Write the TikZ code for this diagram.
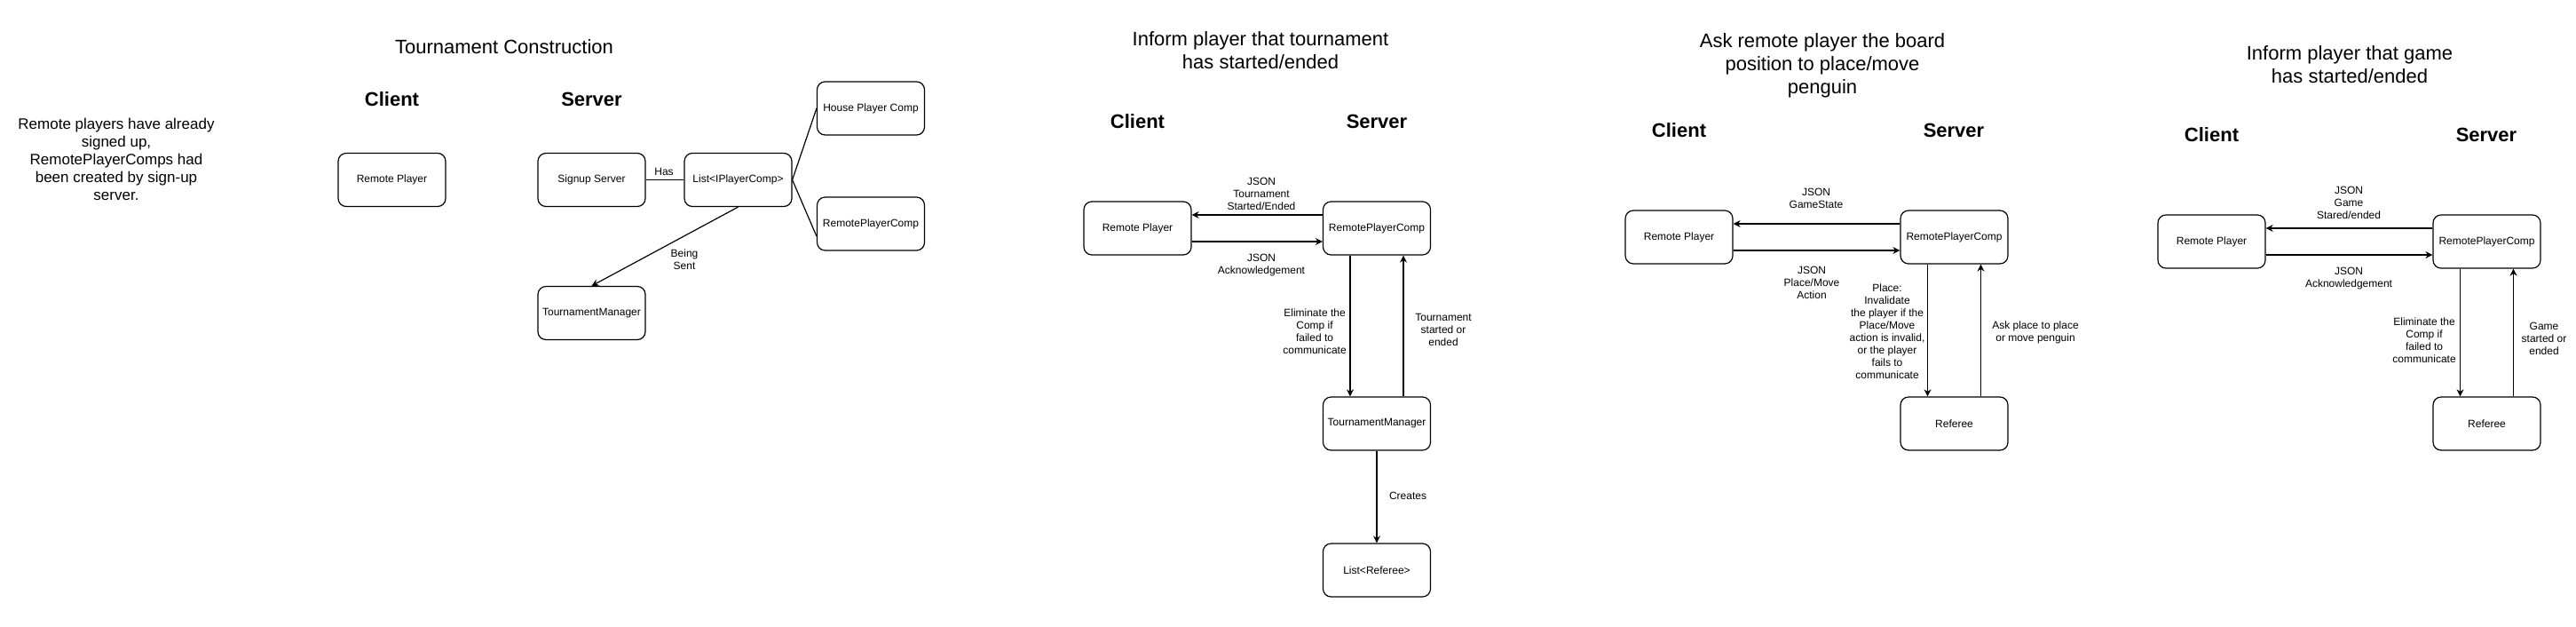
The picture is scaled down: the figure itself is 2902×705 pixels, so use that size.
\documentclass[tikz,border=0pt]{standalone}
\usepackage{fontspec}
\setmainfont{Liberation Sans}
\usetikzlibrary{arrows.meta}
\begin{document}
\begin{tikzpicture}[x=1pt, y=-1pt, node distance=225pt,
	comp/.style = {draw, rounded corners=9pt, line width=1.2pt, minimum width=121pt, minimum height=60pt, font=\fontsize{12}{14}\selectfont},
	lbl/.style = {align=center, font=\fontsize{12}{14}\selectfont},
	title/.style = {align=center, font=\fontsize{22}{26}\selectfont},
	side/.style = {font=\fontsize{22}{26}\selectfont\bfseries},
	link/.style = {line width=1.2pt},
	arr/.style = {line width=1.2pt, -{Stealth[length=8pt, width=8pt]}}]
		\useasboundingbox (0,0) rectangle (2902,705);
		\node[lbl, font=\fontsize{17}{20}\selectfont] (note) at (131,179) {Remote players have already\\signed up,\\RemotePlayerComps had\\been created by sign-up\\server.};
		\node[title] (t1) at (568,53) {Tournament Construction};
		\node[side] (c1) at (441.5,112) {Client};
		\node[side] (s1) at (666.5,112) {Server};
		\node[comp] (rp1) at (441.5,202.5) {Remote Player};
		\node[comp] (ss) [right of=rp1] {Signup Server};
		\node[comp] (lst) [right of=ss, node distance=165pt] {List<IPlayerComp>};
		\node[comp] (house) at (981,122) {House Player Comp};
		\node[comp] (rpc1) [below of=house, node distance=130pt] {RemotePlayerComp};
		\node[comp] (tm1) [below of=ss, node distance=150pt] {TournamentManager};
		\node[lbl] (has) at (748,193) {Has};
		\node[lbl] (sent) at (771,292.5) {Being\\Sent};
		\draw[link] (ss) -- (lst);
		\draw[link] (lst.east) -- (house.west);
		\draw[link] (lst.east) -- ([yshift=-14pt]rpc1.west);
		\draw[arr] (lst.south) -- (tm1.north);

		\node[title] (t2) at (1420,57) {Inform player that tournament\\has started/ended};
		\node[side] (c2) at (1281.5,137) {Client};
		\node[side] (s2) at (1551,137) {Server};
		\node[comp] (rp2) at (1281.5,257) {Remote Player};
		\node[comp] (rpc2) [right of=rp2, node distance=269.5pt] {RemotePlayerComp};
		\node[comp] (tm2) [below of=rpc2, node distance=220pt] {TournamentManager};
		\node[comp] (refs) [below of=tm2, node distance=165pt] {List<Referee>};
		\node[lbl] (j2a) at (1421,218) {JSON\\Tournament\\Started/Ended};
		\node[lbl] (j2b) at (1421,299) {JSON\\Acknowledgement};
		\node[lbl] (e2) at (1481,373) {Eliminate the\\Comp if\\failed to\\communicate};
		\node[lbl] (g2) at (1626,371) {Tournament\\started or\\ended};
		\node[lbl] (cr) at (1586,558) {Creates};
		\draw[arr] ([yshift=15pt]rpc2.west) -- ([yshift=15pt]rp2.east);
		\draw[arr] ([yshift=-15pt]rp2.east) -- ([yshift=-15pt]rpc2.west);
		\draw[arr] ([xshift=-30pt]rpc2.south) -- ([xshift=-30pt]tm2.north);
		\draw[arr] ([xshift=30pt]tm2.north) -- ([xshift=30pt]rpc2.south);
		\draw[arr] (tm2) -- (refs);

		\node[title] (t3) at (2053,74) {Ask remote player the board\\position to place/move\\penguin};
		\node[side] (c3) at (1891.5,147) {Client};
		\node[side] (s3) at (2201,147) {Server};
		\node[comp] (rp3) at (1891.5,267) {Remote Player};
		\node[comp] (rpc3) [right of=rp3, node distance=310pt] {RemotePlayerComp};
		\node[comp] (ref3) [below of=rpc3, node distance=210pt] {Referee};
		\node[lbl] (j3a) at (2046,223) {JSON\\GameState};
		\node[lbl] (j3b) at (2041,318) {JSON\\Place/Move\\Action};
		\node[lbl] (e3) at (2126,373) {Place:\\Invalidate\\the player if the\\Place/Move\\action is invalid,\\or the player\\fails to\\communicate};
		\node[lbl] (g3) at (2293,374) {Ask place to place\\or move penguin};
		\draw[arr] ([yshift=15pt]rpc3.west) -- ([yshift=15pt]rp3.east);
		\draw[arr] ([yshift=-15pt]rp3.east) -- ([yshift=-15pt]rpc3.west);
		\draw[arr] ([xshift=-30pt]rpc3.south) -- ([xshift=-30pt]ref3.north);
		\draw[arr] ([xshift=30pt]ref3.north) -- ([xshift=30pt]rpc3.south);

		\node[title] (t4) at (2647,73) {Inform player that game\\has started/ended};
		\node[side] (c4) at (2491.5,152) {Client};
		\node[side] (s4) at (2801,152) {Server};
		\node[comp] (rp4) at (2491.5,272) {Remote Player};
		\node[comp] (rpc4) [right of=rp4, node distance=310pt] {RemotePlayerComp};
		\node[comp] (ref4) [below of=rpc4, node distance=205pt] {Referee};
		\node[lbl] (j4a) at (2646,228) {JSON\\Game\\Stared/ended};
		\node[lbl] (j4b) at (2646,314) {JSON\\Acknowledgement};
		\node[lbl] (e4) at (2731,383) {Eliminate the\\Comp if\\failed to\\communicate};
		\node[lbl] (g4) at (2866,381) {Game\\started or\\ended};
		\draw[arr] ([yshift=15pt]rpc4.west) -- ([yshift=15pt]rp4.east);
		\draw[arr] ([yshift=-15pt]rp4.east) -- ([yshift=-15pt]rpc4.west);
		\draw[arr] ([xshift=-30pt]rpc4.south) -- ([xshift=-30pt]ref4.north);
		\draw[arr] ([xshift=30pt]ref4.north) -- ([xshift=30pt]rpc4.south);
	\end{tikzpicture}
\end{document}
